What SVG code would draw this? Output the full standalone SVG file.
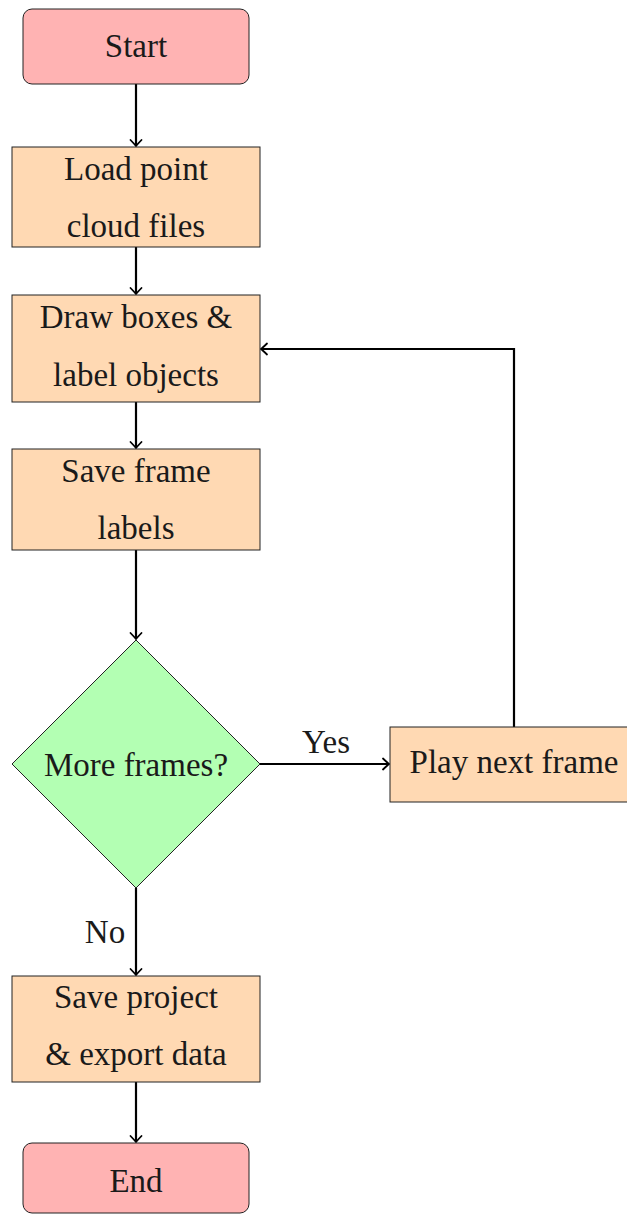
<svg xmlns="http://www.w3.org/2000/svg" width="627" height="1214" viewBox="0 0 627 1214">
<style>
.t{font-family:"Liberation Serif","DejaVu Serif",serif;font-size:33px;fill:#1a1a1a;text-anchor:middle}
.term{fill:#ffb3b3;stroke:#222;stroke-width:1}
.proc{fill:#ffd9b3;stroke:#222;stroke-width:1}
.dec{fill:#b3ffb3;stroke:#222;stroke-width:1}
.c{fill:none;stroke:#000;stroke-width:2.2;marker-end:url(#arr)}
</style>
<defs>
<marker id="arr" markerWidth="14" markerHeight="14" refX="0" refY="0" viewBox="-8 -7 10 14" orient="auto" markerUnits="userSpaceOnUse" overflow="visible">
<path d="M-6,-5.5 Q-1.5,-1.2 0,0 Q-1.5,1.2 -6,5.5" fill="none" stroke="#000" stroke-width="1.8" stroke-linecap="round"/>
</marker>
</defs>
<rect width="627" height="1214" fill="#fff"/>
<g id="connectors">
<path class="c" d="M136,84 V146"/>
<path class="c" d="M136,247 V294"/>
<path class="c" d="M136,402 V448"/>
<path class="c" d="M136,550 V639"/>
<path class="c" d="M136,888 V975"/>
<path class="c" d="M136,1082 V1142"/>
<path class="c" d="M260,764 H389"/>
<path class="c" d="M514,727 V349 H261"/>
<text class="t" x="326" y="753">Yes</text>
<text class="t" x="105" y="943">No</text>
</g>
<g id="start">
<rect class="term" x="23" y="9" width="226" height="75" rx="9"/>
<text class="t" x="136" y="57">Start</text>
</g>
<g id="load">
<rect class="proc" x="12" y="147" width="248" height="100"/>
<text class="t" x="136" y="180">Load point</text>
<text class="t" x="136" y="237">cloud files</text>
</g>
<g id="draw">
<rect class="proc" x="12" y="295" width="248" height="107"/>
<text class="t" x="136" y="328">Draw boxes &amp;</text>
<text class="t" x="136" y="386">label objects</text>
</g>
<g id="saveframe">
<rect class="proc" x="12" y="449" width="248" height="101"/>
<text class="t" x="136" y="482">Save frame</text>
<text class="t" x="136" y="539">labels</text>
</g>
<g id="decision">
<polygon class="dec" points="136,640 260,764 136,888 12,764"/>
<text class="t" x="136" y="776">More frames?</text>
</g>
<g id="playnext">
<rect class="proc" x="390" y="727" width="248" height="75"/>
<text class="t" x="514" y="773">Play next frame</text>
</g>
<g id="saveproject">
<rect class="proc" x="12" y="976" width="248" height="106"/>
<text class="t" x="136" y="1008">Save project</text>
<text class="t" x="136" y="1065">&amp; export data</text>
</g>
<g id="end">
<rect class="term" x="23" y="1143" width="226" height="70" rx="9"/>
<text class="t" x="136" y="1192">End</text>
</g>
</svg>
